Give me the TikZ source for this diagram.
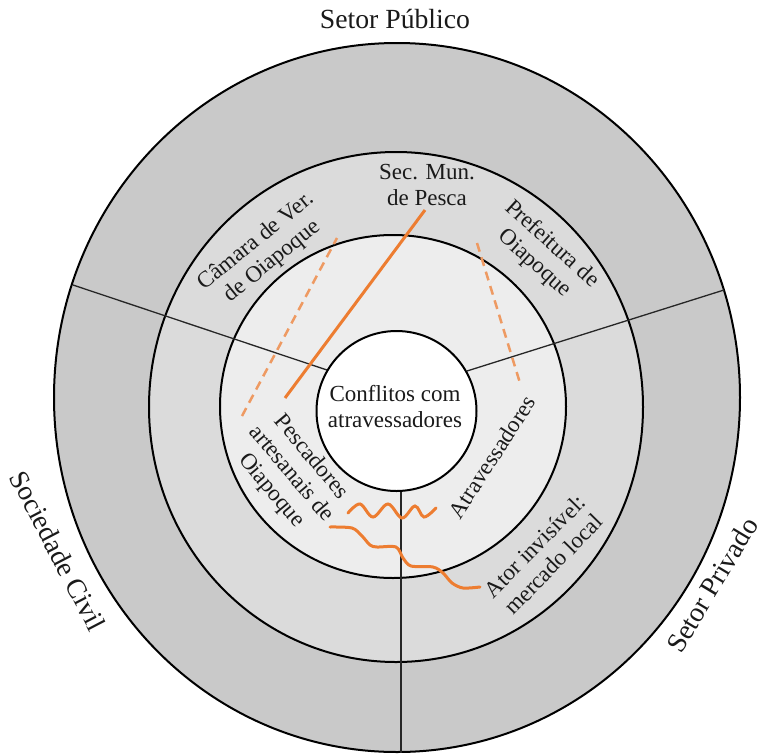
\documentclass[tikz,border=0pt]{standalone}
\usepackage{fontspec}
\setmainfont{Liberation Serif}
\definecolor{ringA}{HTML}{C9C9C9}
\definecolor{ringB}{HTML}{DBDBDB}
\definecolor{ringC}{HTML}{EDEDED}
\definecolor{orangeA}{HTML}{ED7D31}
\definecolor{orangeB}{HTML}{EE9A62}
\definecolor{txt}{HTML}{1A1A1A}
\begin{document}
\begin{tikzpicture}[x=1pt,y=-1pt,
  ring/.style={draw=black,line width=2pt},
  divider/.style={draw=black!85,line width=1.3pt},
  outerlbl/.style={font=\fontsize{27.7}{30}\selectfont,text=txt,inner sep=0pt},
  innerlbl/.style={font=\fontsize{23}{26}\selectfont,text=txt,inner sep=0pt,align=center},
  solidorange/.style={draw=orangeA,line width=3pt},
  dashorange/.style={draw=orangeB,line width=2.5pt,dash pattern=on 9pt off 6pt},
  wave/.style={draw=orangeA,line width=3pt,line cap=round}]
\useasboundingbox (0,0) rectangle (761,753);
\fill[white] (0,0) rectangle (761,753);

% rings
\filldraw[ring,fill=ringA] (397,397.5) ellipse [x radius=343pt,y radius=354.5pt];
\filldraw[ring,fill=ringB] (396,407) ellipse [x radius=247pt,y radius=255pt];
\filldraw[ring,fill=ringC] (393,406.5) ellipse [x radius=173pt,y radius=171.5pt];

% dividers
\coordinate (lA) at (73,285);
\coordinate (lB) at (330,371);
\coordinate (rA) at (724,290);
\coordinate (rB) at (467,371);
\coordinate (vA) at (401,485);
\coordinate (vB) at (401,753);
\draw[divider] (lA) -- (lB);
\draw[divider] (rA) -- (rB);
\draw[divider] (vA) -- (vB);

% core circle
\node[circle,draw=black,line width=2pt,fill=white,minimum size=160pt,inner sep=0pt] (core) at (396.5,411) {};
\node[innerlbl] (conf) at (395,406.5) {Conflitos com\\atravessadores};

% orange connectors
\coordinate (sA) at (285,398);
\coordinate (sB) at (425,210);
\draw[solidorange] (sA) -- (sB);
\coordinate (dlA) at (242,416);
\coordinate (dlB) at (337,238);
\draw[dashorange] (dlA) -- (dlB);
\coordinate (drA) at (477,243);
\coordinate (drB) at (520,383);
\draw[dashorange] (drA) -- (drB);
\draw[wave] plot[smooth,tension=0.6] coordinates {(348,513) (360,504) (373,517) (388,504) (402,518) (415,506) (424,517) (436,508)};
\draw[wave] plot[smooth,tension=0.5] coordinates {(330,527) (352,528) (362,536) (370,545) (377,547) (396,547) (403,558) (411,566) (433,567) (443,573) (452,583) (463,588) (480,587)};

% outer labels
\node[outerlbl,anchor=base] (pub) at (395,28.3) {Setor Público};
\node[outerlbl,rotate=-62.5] (soc) at (58,551) {Sociedade Civil};
\node[outerlbl,rotate=59] (priv) at (712,585) {Setor Privado};

% inner labels
\node[innerlbl] (sec) at (427,185) {Sec. Mun.\\de Pesca};
\node[innerlbl,rotate=39] (cam) at (264.5,251.5) {Câmara de Ver.\\de Oiapoque};
\node[innerlbl,rotate=-42] (pref) at (543,254) {Prefeitura de\\Oiapoque};
\node[innerlbl,rotate=-50] (pesc) at (291,474) {Pescadores\\artesanais de\\Oiapoque};
\node[innerlbl,rotate=57] (atr) at (492,457) {Atravessadores};
\node[innerlbl,rotate=45.5] (ator) at (544,555) {Ator invisível:\\mercado local};
\end{tikzpicture}
\end{document}
